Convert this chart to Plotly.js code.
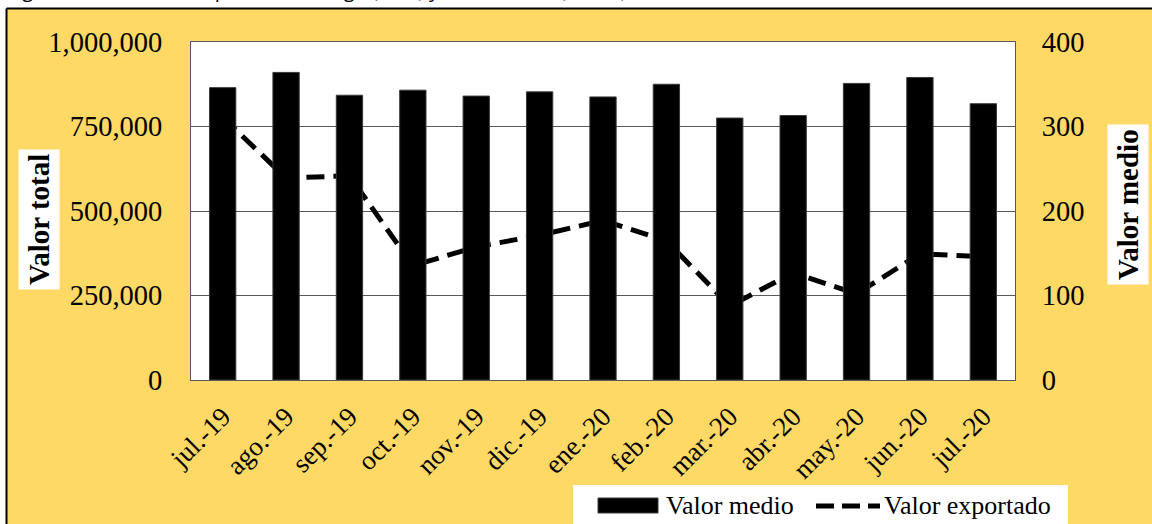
<!DOCTYPE html>
<html>
<head>
<meta charset="utf-8">
<script src="https://cdn.plot.ly/plotly-3.0.1.min.js"></script>
<style>html,body{margin:0;padding:0;background:#fff;}#chart{width:1152px;height:524px;}</style>
</head>
<body>
<div id="chart"></div>
<script>
// ---- data ----
const months = ["jul.-19","ago.-19","sep.-19","oct.-19","nov.-19","dic.-19","ene.-20","feb.-20","mar.-20","abr.-20","may.-20","jun.-20","jul.-20"];
// Valor medio (USD/t) -> bars, right axis
const valorMedio = [346, 364, 337, 343, 336, 341, 335, 350, 310, 313, 351, 358, 327];
// Valor exportado (USD) -> dashed line, left axis
const valorExportado = [777000, 598000, 604000, 338000, 394000, 428000, 472000, 412000, 219000, 317000, 255000, 373000, 365000];
const leftTicks = [0, 250000, 500000, 750000, 1000000];
const leftTickText = ["0", "250,000", "500,000", "750,000", "1,000,000"];
const rightTicks = [0, 100, 200, 300, 400];
const titleText = "Figura 8. Valor total exportado de trigo (USD) y valor medio (USD/t)";

// ---- geometry helpers (pixel -> paper) ----
const L = 191, R = 137, T = 42, B = 144, W = 1152, H = 524;
const pw = W - L - R, ph = H - T - B;
const px = p => (p - L) / pw;
const py = p => (H - B - p) / ph;

const serif = "Liberation Serif, Times New Roman, serif";
const axisColor = "#595959";

const traces = [
  {
    type: "scatter", mode: "lines", name: "Valor exportado",
    x: months, y: valorExportado, xaxis: "x", yaxis: "y",
    line: {color: "#000", width: 5, dash: "18px,9px"},
    showlegend: false, hoverinfo: "x+y"
  },
  {
    type: "bar", name: "Valor medio",
    x: months, y: valorMedio, xaxis: "x", yaxis: "y2",
    marker: {color: "#000", line: {color: "#3a3a3a", width: 1}},
    showlegend: false, hoverinfo: "x+y"
  }
];

const layout = {
  width: W, height: H,
  margin: {l: L, r: R, t: T, b: B, pad: 0},
  paper_bgcolor: "#FFD966",
  plot_bgcolor: "#FFFFFF",
  bargap: 0.585,
  showlegend: false,
  font: {family: serif, size: 26, color: "#000"},
  xaxis: {
    type: "category", tickangle: -45, ticks: "", showgrid: false,
    showline: true, mirror: true, linecolor: axisColor, linewidth: 1,
    tickfont: {family: serif, size: 27, color: "#000"},
    ticklabelstandoff: 9, fixedrange: true
  },
  yaxis: {
    range: [0, 1000000], tickvals: leftTicks, ticktext: leftTickText,
    showgrid: true, gridcolor: axisColor, gridwidth: 1,
    showline: true, linecolor: axisColor, linewidth: 1, zeroline: false,
    ticks: "", tickfont: {family: serif, size: 28.5, color: "#000"},
    ticklabelstandoff: 22, fixedrange: true
  },
  yaxis2: {
    overlaying: "y", side: "right", range: [0, 400], tickvals: rightTicks,
    showgrid: false, showline: true, linecolor: axisColor, linewidth: 1, zeroline: false,
    ticks: "", tickfont: {family: serif, size: 28.5, color: "#000"},
    ticklabelstandoff: 20, fixedrange: true
  },
  shapes: [
    // white margin strips outside the frame
    {type: "rect", xref: "paper", yref: "paper", x0: px(-5), x1: px(6), y0: py(-5), y1: py(H + 10), fillcolor: "#fff", line: {width: 0}, layer: "above"},
    {type: "rect", xref: "paper", yref: "paper", x0: px(-5), x1: px(W + 10), y0: py(8), y1: py(-5), fillcolor: "#fff", line: {width: 0}, layer: "above"},
    // frame border
    {type: "line", xref: "paper", yref: "paper", x0: px(6.5), x1: px(W + 10), y0: py(8.5), y1: py(8.5), line: {color: "#000", width: 2}, layer: "above"},
    {type: "line", xref: "paper", yref: "paper", x0: px(6.5), x1: px(6.5), y0: py(8.5), y1: py(H + 10), line: {color: "#000", width: 2}, layer: "above"},
    // legend box
    {type: "rect", xref: "paper", yref: "paper", x0: px(573), x1: px(1068), y0: py(485), y1: py(H + 10), fillcolor: "#fff", line: {width: 0}, layer: "above"},
    // legend symbol: bar
    {type: "rect", xref: "paper", yref: "paper", x0: px(598), x1: px(658), y0: py(498), y1: py(513), fillcolor: "#000", line: {color: "#3a3a3a", width: 1}, layer: "above"},
    // legend symbol: dashed line
    {type: "line", xref: "paper", yref: "paper", x0: px(816), x1: px(880), y0: py(506), y1: py(506), line: {color: "#000", width: 5, dash: "18px,8px"}, layer: "above"}
  ],
  annotations: [
    {text: titleText, xref: "paper", yref: "paper", x: px(5), y: py(5), xanchor: "left", yanchor: "bottom",
     showarrow: false, font: {family: "Open Sans, Liberation Sans, sans-serif", size: 20, color: "#000"}},
    {text: "<b>Valor total</b>", xref: "paper", yref: "paper", x: px(39), y: py(220), xanchor: "center", yanchor: "middle",
     textangle: -90, showarrow: false, bgcolor: "#fff", borderpad: 4, font: {family: serif, size: 29, color: "#000"}},
    {text: "<b>Valor medio</b>", xref: "paper", yref: "paper", x: px(1128), y: py(205), xanchor: "center", yanchor: "middle",
     textangle: -90, showarrow: false, bgcolor: "#fff", borderpad: 4, font: {family: serif, size: 29, color: "#000"}},
    {text: "Valor medio", xref: "paper", yref: "paper", x: px(664), y: py(505), xanchor: "left", yanchor: "middle",
     showarrow: false, font: {family: serif, size: 26, color: "#000"}},
    {text: "Valor exportado", xref: "paper", yref: "paper", x: px(882), y: py(505), xanchor: "left", yanchor: "middle",
     showarrow: false, font: {family: serif, size: 26, color: "#000"}}
  ]
};

Plotly.newPlot("chart", traces, layout, {staticPlot: true, displayModeBar: false});
</script>
</body>
</html>
